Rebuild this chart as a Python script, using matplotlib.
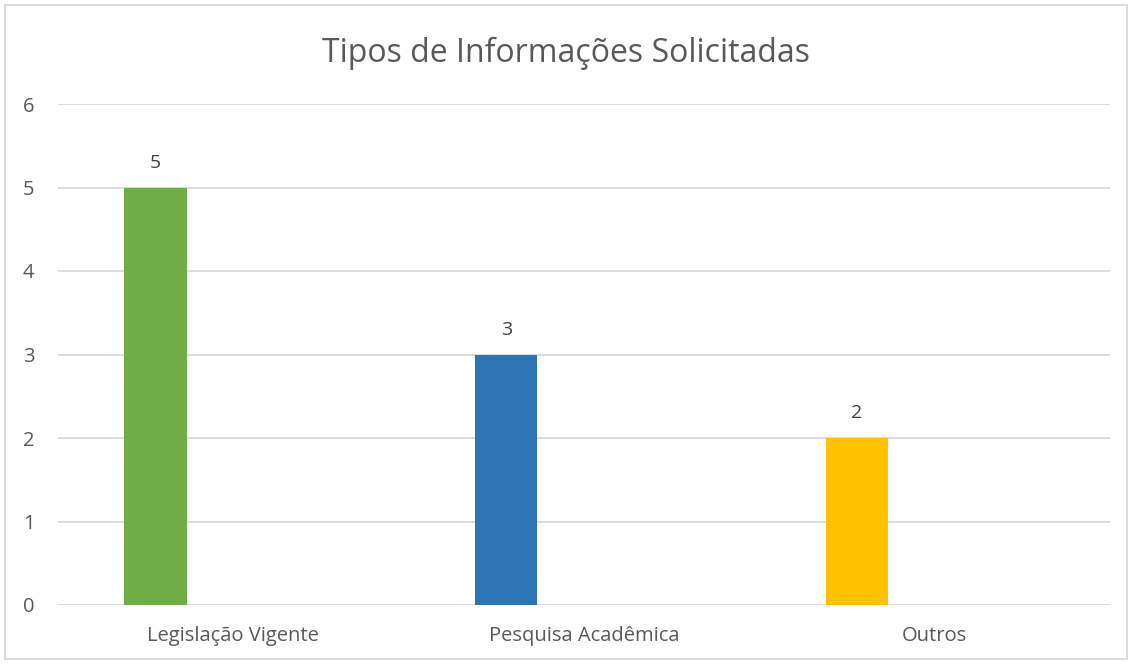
import matplotlib.pyplot as plt
from matplotlib.patches import Rectangle

categorias = ["Legislação Vigente", "Pesquisa Acadêmica", "Outros"]
valores = [5, 3, 2]
cores = ["#70AD47", "#2E75B6", "#FFC000"]

plt.rcParams['font.family'] = ['Open Sans', 'DejaVu Sans']

fig = plt.figure(figsize=(11.32, 6.64), dpi=100)
ax = fig.add_axes([58 / 1132, 59 / 664, 1052 / 1132, 501 / 664])

x = list(range(len(categorias)))
pos = [i - 0.222 for i in x]
barras = ax.bar(pos, valores, width=0.177, color=cores, zorder=3)
for b, v in zip(barras, valores):
    ax.text(b.get_x() + b.get_width() / 2, v + 0.19, str(v), ha='center', va='bottom',
            fontsize=14, color='#404040')

ax.set_xlim(-0.5, 2.5)
ax.set_ylim(0, 6)
ax.set_yticks(range(0, 7))
ax.set_xticks(x)
ax.set_xticklabels(categorias)
ax.tick_params(length=0, labelsize=14.5, colors='#595959')
ax.tick_params(axis='x', pad=15)
ax.tick_params(axis='y', pad=17)
for s in ax.spines.values():
    s.set_visible(False)
ax.grid(axis='y', color='#D9D9D9', linewidth=1.3, zorder=0)

fig.suptitle("Tipos de Informações Solicitadas", y=0.945, fontsize=23, color='#595959')

fig.patches.append(Rectangle((5 / 1132, 5 / 664), 1122 / 1132, 654 / 664, transform=fig.transFigure,
                             fill=False, edgecolor='#D9D9D9', linewidth=1.3))

plt.savefig("out.png", dpi=100)
